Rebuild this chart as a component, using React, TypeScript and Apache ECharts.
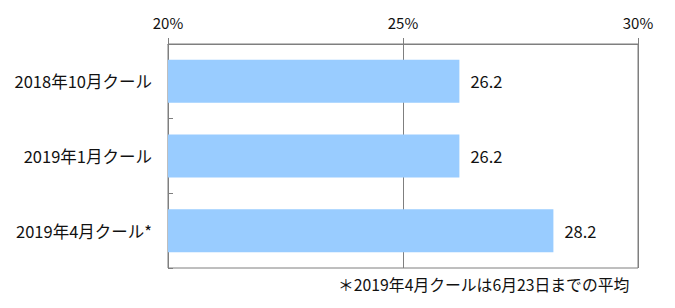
import React, { useEffect, useRef } from "react";
import * as echarts from "echarts";

const categories = ["2018年10月クール", "2019年1月クール", "2019年4月クール*"];
const values = [26.2, 26.2, 28.2];
const axisMin = 20;
const axisMax = 30;
const axisStep = 5;
const footnote = "＊2019年4月クールは6月23日までの平均";

const FONT = "'Noto Sans CJK JP', 'Noto Sans', sans-serif";
const GRAY = "#7f7f7f";
const TEXT = "#111111";

export default function App() {
  const ref = useRef<HTMLDivElement>(null);
  useEffect(() => {
    if (!ref.current) return;
    const chart = echarts.init(ref.current, undefined, { renderer: "svg" });
    chart.setOption({
      animation: false,
      textStyle: { fontFamily: FONT },
      grid: {
        left: 168,
        right: 37,
        top: 44,
        bottom: 40,
        show: true,
        borderColor: GRAY,
        borderWidth: 1,
        backgroundColor: "transparent",
      },
      xAxis: {
        type: "value",
        position: "top",
        min: axisMin,
        max: axisMax,
        interval: axisStep,
        axisLine: { show: true, lineStyle: { color: GRAY, width: 1 } },
        axisTick: { show: true, inside: false, length: 6, lineStyle: { color: GRAY } },
        axisLabel: {
          formatter: "{value}%",
          color: TEXT,
          fontSize: 15,
          fontFamily: FONT,
          margin: 14,
        },
        splitLine: { show: true, lineStyle: { color: GRAY, width: 1 } },
      },
      yAxis: {
        type: "category",
        data: categories,
        inverse: true,
        axisLine: { show: true, lineStyle: { color: GRAY, width: 1 } },
        axisTick: { show: true, inside: true, length: 5, lineStyle: { color: GRAY } },
        axisLabel: { color: TEXT, fontSize: 16.5, fontFamily: FONT, margin: 16 },
        splitLine: { show: false },
      },
      series: [
        {
          type: "bar",
          data: values,
          barWidth: 43,
          itemStyle: { color: "#99ccff" },
          label: {
            show: true,
            position: "right",
            distance: 11,
            color: TEXT,
            fontSize: 16.5,
            fontFamily: FONT,
            formatter: (p: any) => p.value.toFixed(1),
          },
        },
      ],
      graphic: [
        {
          type: "text",
          left: 338,
          top: 277,
          style: { text: footnote, fill: TEXT, fontSize: 15.8, fontFamily: FONT },
        },
      ],
    });
    return () => chart.dispose();
  }, []);
  return (
    <div
      ref={ref}
      style={{ position: "fixed", left: 0, top: 0, width: 675, height: 308, background: "#fff" }}
    />
  );
}
